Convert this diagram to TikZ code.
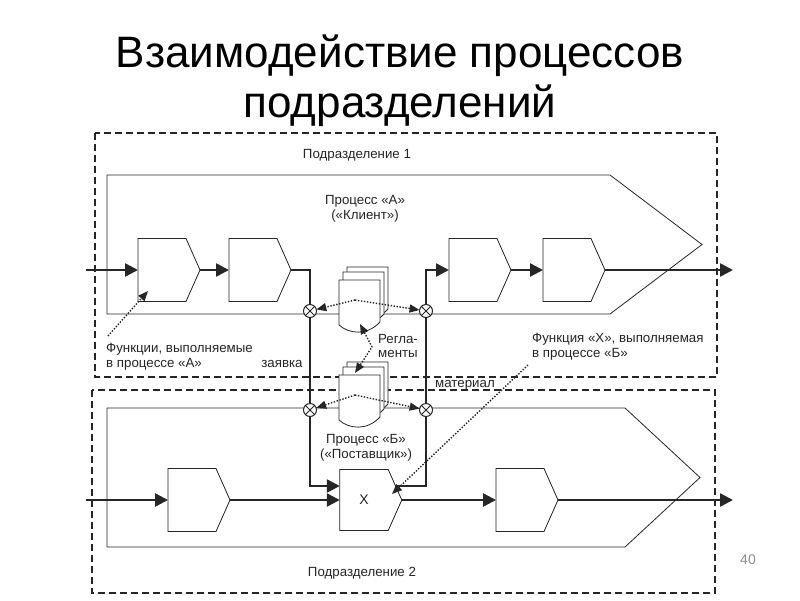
\documentclass[tikz,border=0pt]{standalone}
\usepackage{fontspec}
\setmainfont{Liberation Sans}
\usetikzlibrary{arrows.meta,shapes.symbols,calc}
\definecolor{ink}{gray}{0.15}
\tikzset{
  procline/.style={draw=ink, line width=0.8pt, line join=miter},
  fbox/.style={signal, signal to=east, signal pointer angle=132, draw=ink, fill=white, line width=0.8pt,
               minimum width=62pt, minimum height=63pt, inner sep=0pt, outer sep=0pt},
  unitbox/.style={draw=ink, line width=1.3pt, dash pattern=on 7pt off 4pt},
  flow/.style={draw=ink, line width=2.5pt},
  arr/.style={-{Triangle[length=13pt,width=13pt]}},
  dotarr/.style={draw=ink, line width=1.4pt, dash pattern=on 1.4pt off 1.6pt, -{Triangle[length=10pt,width=8pt]}},
  dotboth/.style={draw=ink, line width=1.4pt, dash pattern=on 1.4pt off 1.6pt, {Triangle[length=10pt,width=8pt]}-{Triangle[length=10pt,width=8pt]}},
  xcirc/.style={circle, draw=ink, fill=white, line width=1pt, minimum size=13pt, inner sep=0pt, outer sep=0pt,
     path picture={\draw[ink, line width=1pt] (path picture bounding box.north west) -- (path picture bounding box.south east)
                    (path picture bounding box.north east) -- (path picture bounding box.south west);}},
  lbl/.style={font=\fontsize{13.3}{14.5}\selectfont, text=ink, inner sep=0pt},
  ttl/.style={font=\fontsize{44}{50}\selectfont, text=black, inner sep=0pt},
  docpage/.style={draw=ink, fill=white, line width=0.8pt},
  docstack/.pic={
    \foreach \dx/\dy in {8/13,4/8,0/0}{
      \draw[docpage] (\dx,-\dy) -- ++(41,0) -- ++(0,42) .. controls ++(-13,14) and ++(10,9) .. ++(-41,3) -- cycle;
    }
  }
}
\begin{document}
\begin{tikzpicture}[x=1pt,y=-1pt]
\useasboundingbox (0,0) rectangle (800,600);
\fill[white] (0,0) rectangle (800,600);

% title
\node[ttl, anchor=base] (t1) at (400,67) {Взаимодействие процессов};
\node[ttl, anchor=base] (t2) at (400,117) {подразделений};

% processes
\draw[procline] (107,175) -- (610,175) -- (702,244.5) -- (610,314) -- (107,314) -- cycle;
\draw[procline] (107,408) -- (625,408) -- (700,477.5) -- (625,547) -- (107,547) -- cycle;

% units
\draw[unitbox] (95,133) rectangle (717,377);
\draw[unitbox] (92,390) rectangle (715,593);

% function boxes
\node[fbox] (f1) at (162,270) {};
\node[fbox] (f2) at (253,270) {};
\node[fbox] (f3) at (473,270) {};
\node[fbox] (f4) at (567,270) {};
\node[fbox] (g1) at (192,500) {};
\node[fbox, minimum height=61pt, font=\fontsize{14}{16}\selectfont, text=ink] (gx) at (364,500) {X};
\node[fbox] (g3) at (520,500) {};

% coordinates
\coordinate (inA) at (86,270);
\coordinate (outA) at (733,270);
\coordinate (inB) at (86,500);
\coordinate (outB) at (733,500);
\coordinate (j1) at (310,486);
\coordinate (xo) at (395,486);
\coordinate (j2) at (426,486);

% flows
\draw[flow,arr] (inA) -- (f1.west);
\draw[flow,arr] (f1.east) -- (f2.west);
\draw[flow,arr] (f2.east) -| (j1) -- (gx.west |- j1);
\draw[flow,arr] (xo) -- (j2) |- (f3.west);
\draw[flow,arr] (f3.east) -- (f4.west);
\draw[flow,arr] (f4.east) -- (outA);
\draw[flow,arr] (inB) -- (g1.west);
\draw[flow,arr] (g1.east) -- (gx.west);
\draw[flow,arr] (gx.east) -- (g3.west);
\draw[flow,arr] (g3.east) -- (outB);

% junctions
\node[xcirc] (c1) at (310,311) {};
\node[xcirc] (c2) at (426,311) {};
\node[xcirc] (c3) at (310,410) {};
\node[xcirc] (c4) at (426,410) {};

% documents
\pic at (339,280) {docstack};
\pic at (339,375) {docstack};
\coordinate (d1) at (355,300);
\coordinate (d2) at (355,395);
\coordinate (dt) at (360,324);
\coordinate (dm) at (372,347);
\coordinate (db) at (355,373);
\draw[dotarr] (d1) -- (c1);
\draw[dotarr] (d1) -- (c2);
\draw[dotarr] (d2) -- (c3);
\draw[dotarr] (d2) -- (c4);
\draw[dotboth] (dt) -- (dm) -- (db);

% labels
\node[lbl] (u1) at (357,155) {Подразделение 1};
\node[lbl] (u2) at (362,573) {Подразделение 2};
\node[lbl, align=center] (pal) at (365,209) {Процесс «А»\\(«Клиент»)};
\node[lbl, align=center] (pbl) at (366,448) {Процесс «Б»\\(«Поставщик»)};
\node[lbl, align=center] (reg) at (398,346) {Регла-\\менты};
\node[lbl] (zv) at (282,364) {заявка};
\node[lbl] (mt) at (465,385) {материал};
\node[lbl, align=left, anchor=west] (lf) at (106,357) {Функции, выполняемые\\в процессе «А»};
\node[lbl, align=left, anchor=west] (lx) at (532,347) {Функция «X», выполняемая\\в процессе «Б»};
\node[lbl, text=black!45, font=\fontsize{14}{16}\selectfont] (pg) at (748,560) {40};

% pointers
\coordinate (lfs) at (108,336);
\coordinate (lfe) at (148,291);
\coordinate (lxs) at (528,365);
\coordinate (lxe) at (392,494);
\draw[dotarr] (lfs) -- (lfe);
\draw[dotarr] (lxs) -- (lxe);
\end{tikzpicture}
\end{document}
